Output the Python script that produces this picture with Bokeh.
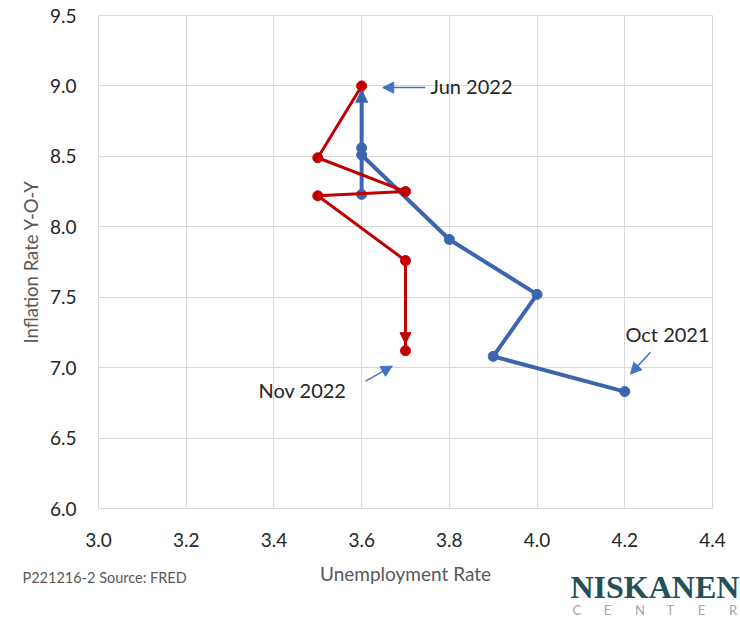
from bokeh.plotting import figure
from bokeh.layouts import column
from bokeh.models import Range1d, Arrow, NormalHead, Label
from bokeh.embed import file_html
from bokeh.resources import INLINE

# ---- data ----
blue_unemp = [4.2, 3.9, 4.0, 3.8, 3.6, 3.6, 3.6, 3.6]
blue_infl = [6.83, 7.08, 7.52, 7.91, 8.51, 8.23, 8.56, 9.0]
red_unemp = [3.6, 3.5, 3.7, 3.5, 3.7, 3.7]
red_infl = [9.0, 8.49, 8.25, 8.22, 7.76, 7.12]
x_ticks = [3.0, 3.2, 3.4, 3.6, 3.8, 4.0, 4.2, 4.4]
y_ticks = [6.0, 6.5, 7.0, 7.5, 8.0, 8.5, 9.0, 9.5]
callouts = ["Jun 2022", "Oct 2021", "Nov 2022"]

BLUE = "#3C65AF"
RED = "#C00000"
CALLOUT = "#4472C4"
GRID = "#D9D9D9"
FONT = "Lato"

W = 740
MAIN_H = 555
FOOT_H = 62

p = figure(width=W, height=MAIN_H, output_backend="svg", toolbar_location=None,
           x_range=Range1d(3.0, 4.4), y_range=Range1d(6.0, 9.5),
           min_border_left=98, min_border_right=28, min_border_top=15, min_border_bottom=47)
p.outline_line_color = GRID
p.background_fill_color = "white"
p.border_fill_color = "white"

for ax in (p.xaxis[0], p.yaxis[0]):
    ax.axis_line_color = None
    ax.major_tick_line_color = None
    ax.minor_tick_line_color = None
    ax.major_label_text_font = FONT
    ax.major_label_text_font_size = "19px"
    ax.major_label_text_color = "#262626"
    ax.axis_label_text_font = FONT
    ax.axis_label_text_font_size = "18.5px"
    ax.axis_label_text_font_style = "normal"
    ax.axis_label_text_color = "#595959"

p.xaxis.ticker = x_ticks
p.yaxis.ticker = y_ticks
p.xaxis.major_label_overrides = {t: f"{t:.1f}" for t in x_ticks}
p.yaxis.major_label_overrides = {t: f"{t:.1f}" for t in y_ticks}
p.xaxis.major_label_standoff = 18
p.yaxis.major_label_standoff = 16
p.yaxis.axis_label = "Inflation Rate Y-O-Y"
p.yaxis.axis_label_standoff = 5

p.xgrid.grid_line_color = GRID
p.ygrid.grid_line_color = GRID

# blue path (Oct 2021 -> Jun 2022)
p.line(blue_unemp, blue_infl, line_color=BLUE, line_width=4, line_join="round")
p.scatter(blue_unemp[:-1], blue_infl[:-1], size=10, fill_color=BLUE, line_color=BLUE)
p.add_layout(Arrow(end=NormalHead(size=12, fill_color=BLUE, line_color=BLUE),
                   x_start=blue_unemp[-2], y_start=blue_infl[-2],
                   x_end=blue_unemp[-1], y_end=blue_infl[-1] - 0.03,
                   line_alpha=0))

# red path (Jun 2022 -> Nov 2022)
p.line(red_unemp, red_infl, line_color=RED, line_width=3, line_join="round")
p.add_layout(Arrow(end=NormalHead(size=11, fill_color=RED, line_color=RED),
                   x_start=red_unemp[-2], y_start=red_infl[-2],
                   x_end=red_unemp[-1], y_end=red_infl[-1] + 0.05,
                   line_alpha=0))
p.scatter(red_unemp, red_infl, size=10, fill_color=RED, line_color=RED)

# callouts
def callout(txt, tx, ty, x0, y0, x1, y1):
    p.add_layout(Label(x=tx, y=ty, text=txt, text_font=FONT, text_font_size="20px",
                       text_color="#262626", text_baseline="middle", text_align="left"))
    p.add_layout(Arrow(end=NormalHead(size=11, fill_color=CALLOUT, line_color=CALLOUT),
                       x_start=x0, y_start=y0, x_end=x1, y_end=y1,
                       line_color=CALLOUT, line_width=1.5))

callout(callouts[0], 3.757, 9.0, 3.745, 8.988, 3.648, 8.988)
callout(callouts[1], 4.2015, 7.238, 4.2585, 7.110, 4.213, 6.954)
callout(callouts[2], 3.365, 6.84, 3.609, 6.904, 3.670, 7.011)

# ---- footer: x-axis title, source, logo (pixel coordinates) ----
f = figure(width=W, height=FOOT_H, output_backend="svg", toolbar_location=None,
           x_range=Range1d(0, W), y_range=Range1d(FOOT_H, 0),
           x_axis_type=None, y_axis_type=None, min_border=0,
           min_border_left=0, min_border_right=0, min_border_top=0, min_border_bottom=0)
f.outline_line_color = None
f.grid.visible = False
f.background_fill_color = "white"
f.border_fill_color = "white"

f.add_layout(Label(x=405, y=18, text="Unemployment Rate", text_font=FONT,
                   text_font_size="19px", text_color="#595959",
                   text_align="center", text_baseline="middle"))
f.add_layout(Label(x=22, y=22, text="P221216-2 Source: FRED", text_font=FONT,
                   text_font_size="14.5px", text_color="#595959", text_baseline="middle"))
f.add_layout(Label(x=570, y=31, text="NISKANEN", text_font="Liberation Serif",
                   text_font_size="32px", text_font_style="bold",
                   text_color="#24505A", text_baseline="middle"))
for i, ch in enumerate("CENTER"):
    f.add_layout(Label(x=572 + 31.3 * i, y=54, text=ch, text_font=FONT,
                       text_font_size="13px", text_color="#A6A6A6",
                       text_baseline="middle"))

layout = column(p, column(f, spacing=0), spacing=0)
open("out.html", "w").write(file_html(layout, INLINE))
